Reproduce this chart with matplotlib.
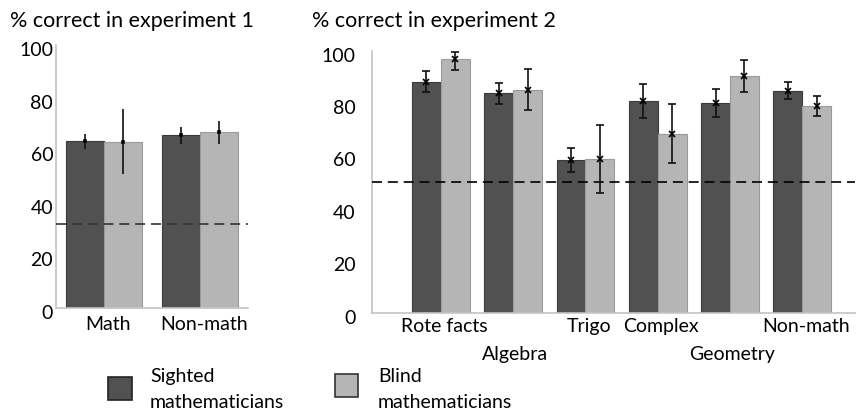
import numpy as np
import matplotlib
matplotlib.use("Agg")
import matplotlib.pyplot as plt
from matplotlib.patches import Rectangle
from matplotlib.transforms import ScaledTranslation

# --- data ------------------------------------------------------------------
exp1_cats = ["Math", "Non-math"]
exp1_sighted = [63.6, 65.6]
exp1_sighted_lo = [60.6, 62.2]
exp1_sighted_hi = [66.3, 68.7]
exp1_blind = [63.3, 66.9]
exp1_blind_lo = [51.0, 62.5]
exp1_blind_hi = [75.7, 71.1]
exp1_chance = 32

exp2_cats = ["Rote facts", "Algebra", "Trigo", "Complex", "Geometry", "Non-math"]
exp2_sighted = [88.2, 83.7, 58.3, 80.8, 80.0, 84.6]
exp2_sighted_lo = [84.2, 79.5, 53.7, 74.2, 74.7, 81.6]
exp2_sighted_hi = [92.4, 87.8, 63.0, 87.2, 85.3, 88.2]
exp2_blind = [96.7, 84.9, 58.5, 68.3, 90.3, 79.0]
exp2_blind_lo = [92.6, 77.5, 45.7, 57.0, 84.4, 75.1]
exp2_blind_hi = [99.6, 92.9, 71.6, 79.8, 96.3, 82.6]
exp2_chance = 50
# which category labels sit on the lower (second) row
exp2_low_row = ["Algebra", "Geometry"]

C_SIGHT = "#515151"
C_BLIND = "#b5b5b5"
C_SPINE = "#c4c4c4"

plt.rcParams["font.family"] = ["Lato", "DejaVu Sans"]
FS = 14
FS_TITLE = 15.5

W, H = 856, 413
fig = plt.figure(figsize=(W / 100, H / 100), dpi=100)


def px_axes(x0, x1, ytop, ybot):
    return fig.add_axes([x0 / W, (H - ybot) / H, (x1 - x0) / W, (ybot - ytop) / H])


def style(ax, ypad):
    for s in ("top", "right"):
        ax.spines[s].set_visible(False)
    for s in ("left", "bottom"):
        ax.spines[s].set_color(C_SPINE)
        ax.spines[s].set_linewidth(1.2)
    ax.set_ylim(0, 100)
    ax.set_yticks([0, 20, 40, 60, 80, 100])
    ax.tick_params(axis="y", length=0, pad=ypad, labelsize=FS)
    ax.tick_params(axis="x", which="both", length=0, labelsize=FS)
    off = ScaledTranslation(0, -4 / 100, fig.dpi_scale_trans)
    for lab in ax.get_yticklabels():
        lab.set_transform(lab.get_transform() + off)


def bars(ax, sighted, s_lo, s_hi, blind, b_lo, b_hi, caps, marker, ms):
    x = np.arange(len(sighted))
    w = 0.4
    ax.bar(x - w / 2, sighted, w, color=C_SIGHT, edgecolor="#3a3a3a", lw=0.8, zorder=2)
    ax.bar(x + w / 2, blind, w, color=C_BLIND, edgecolor="#9a9a9a", lw=0.8, zorder=2)
    for off, m, lo, hi in ((-w / 2, sighted, s_lo, s_hi), (w / 2, blind, b_lo, b_hi)):
        m = np.array(m)
        yerr = [m - np.array(lo), np.array(hi) - m]
        ax.errorbar(x + off, m, yerr=yerr, fmt=marker, ms=ms, color="black",
                    ecolor="#111111", elinewidth=1.2, capsize=caps, capthick=1.2,
                    mew=1.2, zorder=4)
    return x


# --- experiment 1 ------------------------------------------------------------
ax1 = px_axes(56, 248, 45, 308)
x1 = bars(ax1, exp1_sighted, exp1_sighted_lo, exp1_sighted_hi,
          exp1_blind, exp1_blind_lo, exp1_blind_hi, 0, "s", 1.8)
ax1.set_xlim(-0.5, 1.5)
ax1.axhline(exp1_chance, color="#333333", lw=1.2, ls=(0, (6, 3.5)), zorder=3)
ax1.set_xticks(x1 + 0.04)
ax1.set_xticklabels(exp1_cats)
style(ax1, 2)
ax1.tick_params(axis="x", pad=6)
fig.text(10 / W, (H - 27) / H, "% correct in experiment 1", fontsize=FS_TITLE,
         ha="left", va="baseline")

# --- experiment 2 ------------------------------------------------------------
ax2 = px_axes(372.3, 855, 50.7, 312.7)
x2 = bars(ax2, exp2_sighted, exp2_sighted_lo, exp2_sighted_hi,
          exp2_blind, exp2_blind_lo, exp2_blind_hi, 3, "x", 5)
ax2.set_xlim(-0.95, 5.73)
ax2.axhline(exp2_chance, color="black", lw=1.2, ls=(0, (6, 3.5)), zorder=3)
top_idx = [i for i, c in enumerate(exp2_cats) if c not in exp2_low_row]
low_idx = [i for i, c in enumerate(exp2_cats) if c in exp2_low_row]
ax2.set_xticks(x2[top_idx] + 0.05)
ax2.set_xticklabels([exp2_cats[i] for i in top_idx])
ax2.set_xticks(x2[low_idx] + 0.03, minor=True)
ax2.set_xticklabels([exp2_cats[i] for i in low_idx], minor=True)
style(ax2, 12)
ax2.tick_params(axis="x", which="major", pad=4)
ax2.tick_params(axis="x", which="minor", pad=24)
fig.text(312 / W, (H - 27) / H, "% correct in experiment 2", fontsize=FS_TITLE,
         ha="left", va="baseline")

# --- legend (drawn by hand to match the layout) -------------------------------
fig.add_artist(Rectangle((108 / W, (H - 400) / H), 24 / W, 23 / H,
                         transform=fig.transFigure, facecolor=C_SIGHT,
                         edgecolor="#222222", lw=1.2))
fig.add_artist(Rectangle((335 / W, (H - 397) / H), 23 / W, 23 / H,
                         transform=fig.transFigure, facecolor=C_BLIND,
                         edgecolor="#333333", lw=1.2))
fig.text(150 / W, (H - 382) / H, "Sighted", fontsize=FS, va="baseline")
fig.text(150 / W, (H - 408) / H, "mathematicians", fontsize=FS, va="baseline")
fig.text(378 / W, (H - 382) / H, "Blind", fontsize=FS, va="baseline")
fig.text(378 / W, (H - 408) / H, "mathematicians", fontsize=FS, va="baseline")

fig.savefig("out.png", dpi=100)
